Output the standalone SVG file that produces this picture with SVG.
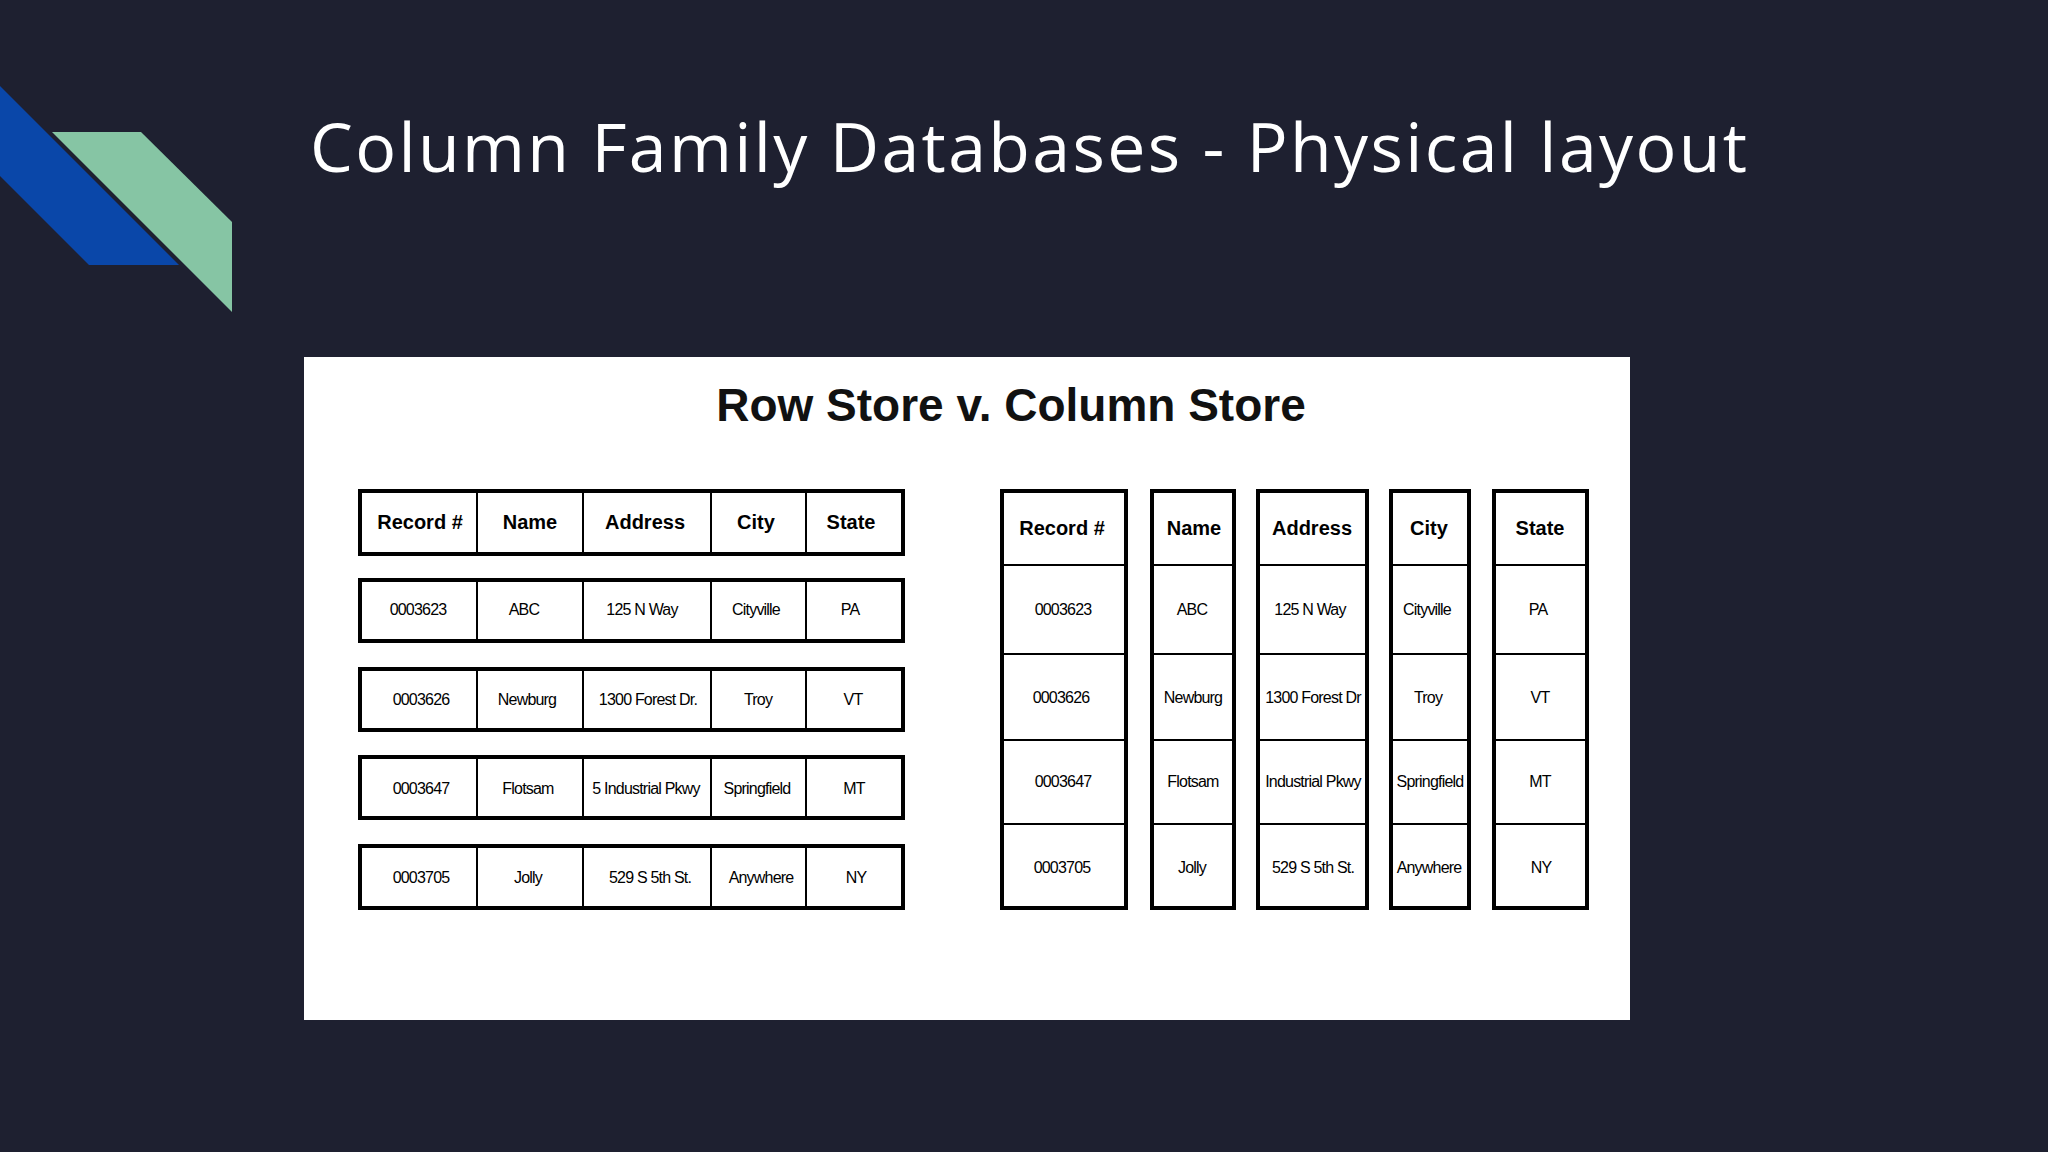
<svg xmlns="http://www.w3.org/2000/svg" width="2048" height="1152" viewBox="0 0 2048 1152">
<style>
.b{fill:none;stroke:#000;stroke-width:4}
.l{stroke:#000;stroke-width:2}
.h{font-family:"Liberation Sans",Arial,sans-serif;font-weight:bold;font-size:20px;text-anchor:middle;dominant-baseline:central}
.d{font-family:"Liberation Sans",Arial,sans-serif;font-size:16px;text-anchor:middle;dominant-baseline:central;letter-spacing:-0.8px}
</style>
<rect width="2048" height="1152" fill="#1e2030"/>
<polygon points="0,86 179,265 89,265 0,176" fill="#0a47a9"/>
<polygon points="52,132 141,132 232,222 232,312" fill="#86c5a4"/>
<text x="310" y="172" font-family="Open Sans, sans-serif" font-weight="500" font-size="68" fill="#fff" textLength="1437">Column Family Databases - Physical layout</text>
<rect x="304" y="357" width="1326" height="663" fill="#fff"/>
<text x="1011" y="421" font-family="Liberation Sans, Arial, sans-serif" font-weight="bold" font-size="46" text-anchor="middle" fill="#111">Row Store v. Column Store</text>
<g id="rowstore">
<g id="r0"><rect class="b" x="360" y="491" width="543" height="63"/></g>
<g id="r1"><rect class="b" x="360" y="580" width="543" height="61"/></g>
<g id="r2"><rect class="b" x="360" y="669" width="543" height="61"/></g>
<g id="r3"><rect class="b" x="360" y="757" width="543" height="61"/></g>
<g id="r4"><rect class="b" x="360" y="846" width="543" height="62"/></g>
<path class="l" d="M477 491V554M583 491V554M711 491V554M806 491V554M477 580V641M583 580V641M711 580V641M806 580V641M477 669V730M583 669V730M711 669V730M806 669V730M477 757V818M583 757V818M711 757V818M806 757V818M477 846V908M583 846V908M711 846V908M806 846V908"/>
<g class="h"><text x="420" y="522">Record #</text><text x="530" y="522">Name</text><text x="645" y="522">Address</text><text x="756" y="522">City</text><text x="851" y="522">State</text></g>
<g class="d">
<text x="418" y="609">0003623</text><text x="524" y="609">ABC</text><text x="642" y="609">125 N Way</text><text x="756" y="609">Cityville</text><text x="850" y="609">PA</text>
<text x="421" y="699">0003626</text><text x="527" y="699">Newburg</text><text x="648" y="699">1300 Forest Dr.</text><text x="758" y="699">Troy</text><text x="853" y="699">VT</text>
<text x="421" y="788">0003647</text><text x="528" y="788">Flotsam</text><text x="646" y="788">5 Industrial Pkwy</text><text x="757" y="788">Springfield</text><text x="854" y="788">MT</text>
<text x="421" y="877">0003705</text><text x="528" y="877">Jolly</text><text x="650" y="877">529 S 5th St.</text><text x="761" y="877">Anywhere</text><text x="856" y="877">NY</text>
</g>
</g>
<g id="colstore">
<g id="c0"><rect class="b" x="1002" y="491" width="124" height="417"/></g>
<g id="c1"><rect class="b" x="1152" y="491" width="82" height="417"/></g>
<g id="c2"><rect class="b" x="1258" y="491" width="109" height="417"/></g>
<g id="c3"><rect class="b" x="1391" y="491" width="78" height="417"/></g>
<g id="c4"><rect class="b" x="1494" y="491" width="93" height="417"/></g>
<path class="l" d="M1002 565H1126M1002 654H1126M1002 740H1126M1002 824H1126M1152 565H1234M1152 654H1234M1152 740H1234M1152 824H1234M1258 565H1367M1258 654H1367M1258 740H1367M1258 824H1367M1391 565H1469M1391 654H1469M1391 740H1469M1391 824H1469M1494 565H1587M1494 654H1587M1494 740H1587M1494 824H1587"/>
<g class="h"><text x="1062" y="528">Record #</text><text x="1194" y="528">Name</text><text x="1312" y="528">Address</text><text x="1429" y="528">City</text><text x="1540" y="528">State</text></g>
<g class="d">
<text x="1063" y="609">0003623</text><text x="1192" y="609">ABC</text><text x="1310" y="609">125 N Way</text><text x="1427" y="609">Cityville</text><text x="1538" y="609">PA</text>
<text x="1061" y="697">0003626</text><text x="1193" y="697">Newburg</text><text x="1313" y="697">1300 Forest Dr</text><text x="1428" y="697">Troy</text><text x="1540" y="697">VT</text>
<text x="1063" y="781">0003647</text><text x="1193" y="781">Flotsam</text><text x="1313" y="781">Industrial Pkwy</text><text x="1430" y="781">Springfield</text><text x="1540" y="781">MT</text>
<text x="1062" y="867">0003705</text><text x="1192" y="867">Jolly</text><text x="1313" y="867">529 S 5th St.</text><text x="1429" y="867">Anywhere</text><text x="1541" y="867">NY</text>
</g>
</g>
<g id="connectors"/>
</svg>
